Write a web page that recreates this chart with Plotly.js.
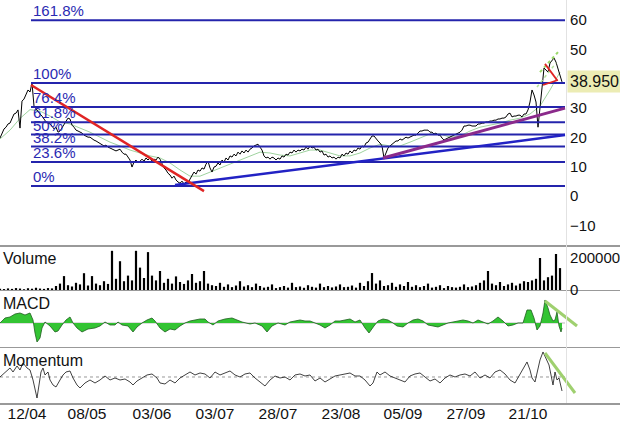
<!DOCTYPE html>
<html>
<head>
<meta charset="utf-8">
<script src="https://cdn.plot.ly/plotly-3.0.1.min.js"></script>
<style>html,body{margin:0;padding:0;background:#fff;}#chart{width:620px;height:423px;}</style>
</head>
<body>
<div id="chart"></div>
<script>
// ---------- DATA ----------
// x positions are trading-day index (0 = first bar)
const tickPos = [13.5, 43.5, 76, 107.5, 139, 170.5, 201.5, 233, 264];
const tickLabels = ['12/04', '08/05', '03/06', '03/07', '28/07', '23/08', '05/09', '27/09', '21/10'];

// daily close, one value per trading day
const priceClose = [
19.8,21.2,22.9,23.5,24.6,24.9,26.3,28.0,28.3,29.4,
23.2,32.4,33.1,34.8,36.2,35.5,38.6,30.7,29.7,28.7,
28.0,27.3,26.3,25.3,24.9,24.6,23.9,22.9,23.5,21.8,
22.2,23.2,24.6,25.6,26.6,26.3,24.2,23.5,22.5,22.2,
21.8,21.5,20.8,20.5,20.1,20.1,19.5,19.1,18.8,18.4,
18.1,17.7,17.1,17.4,16.7,16.4,16.0,15.7,15.4,15.7,
16.0,15.0,14.3,14.3,13.3,12.3,9.9,11.6,12.3,11.3,
11.9,12.6,11.9,13.0,12.3,13.0,11.9,12.6,12.3,13.3,
12.6,11.3,9.6,8.9,7.8,7.2,6.1,6.8,5.5,4.8,
4.4,5.1,4.1,4.8,4.4,5.8,7.2,8.2,7.5,8.9,
8.5,9.6,9.2,10.9,11.9,9.6,8.2,9.9,10.2,11.3,
10.6,12.3,11.6,13.0,12.3,13.7,13.3,14.3,13.7,15.0,
14.3,15.4,14.7,15.7,15.0,16.0,16.4,17.1,17.4,17.7,
16.7,15.7,13.7,13.0,13.3,12.6,13.3,13.0,12.3,13.0,
12.6,13.7,13.3,14.3,14.0,15.0,14.7,15.7,15.0,15.7,
15.4,16.0,15.7,16.7,16.0,17.1,16.4,16.7,15.7,16.0,
15.0,15.4,14.0,14.3,13.3,13.7,13.0,13.3,12.6,13.3,
13.0,14.3,13.7,14.7,14.3,15.4,14.7,15.7,15.4,16.4,
16.0,17.1,16.7,18.1,18.4,19.5,20.5,20.5,19.5,18.8,
18.1,17.1,13.0,15.0,16.4,17.1,17.7,18.4,18.8,18.8,
19.5,19.1,19.5,20.1,19.8,20.1,20.5,20.8,20.8,21.5,
22.2,22.2,22.5,22.5,22.5,21.8,21.8,21.2,21.5,20.8,
20.8,19.8,19.1,19.5,19.8,20.1,20.5,20.8,21.2,21.5,
21.8,22.5,23.9,23.9,24.2,24.2,23.9,23.9,23.9,24.6,
24.6,24.9,24.9,25.3,25.3,25.6,25.6,25.9,25.9,26.3,
26.3,26.6,26.6,27.0,28.0,28.3,27.0,27.3,27.3,27.6,
27.6,27.0,28.0,28.0,29.4,32.1,36.2,34.5,32.1,23.5,
29.4,36.9,43.7,43.0,42.3,45.4,46.4,47.1,45.7,43.7,
41.0,38.95
];

// moving average (light green)
const maX = [0,5,10,15,20,25,30,35,40,45,50,55,60,65,70,75,80,85,90,95,100,105,110,115,120,125,130,135,140,145,150,155,160,165,170,175,180,185,190,195,200,205,210,215,220,225,230,235,240,245,250,255,260,265,270,275,280];
const maY = [
19.5,22.5,26.5,29.5,29.0,27.3,25.3,24.6,23.2,21.8,
20.1,18.4,17.1,15.7,14.7,13.7,13.0,11.3,8.9,6.8,
6.8,8.2,9.6,10.9,12.3,13.7,15.0,14.7,14.0,13.7,
14.7,15.7,15.7,14.7,13.7,13.7,14.7,16.4,17.7,17.1,
17.1,18.4,19.8,21.2,21.2,20.1,20.5,22.2,23.5,24.2,
24.9,25.9,26.6,28.0,30.7,36.2,42.3
];

// volume, one bar every second trading day
const volume = [
8000,6000,10000,7000,12000,9000,5000,11000,8000,14000,9000,7000,12000,10000,
25000,40000,87000,30000,22000,45000,35000,105000,28000,87000,40000,30000,55000,38000,
245000,70000,180000,55000,90000,60000,245000,140000,75000,237000,90000,
60000,119000,45000,70000,40000,85000,50000,38000,60000,100000,45000,55000,119000,40000,
30000,25000,45000,20000,35000,18000,28000,55000,22000,30000,18000,40000,25000,
15000,20000,35000,12000,18000,25000,15000,45000,18000,22000,14000,30000,
20000,15000,40000,18000,25000,16000,22000,35000,18000,20000,28000,15000,45000,25000,55000,
106000,40000,60000,25000,30000,45000,20000,35000,25000,50000,20000,30000,18000,
25000,40000,15000,20000,30000,12000,25000,18000,15000,20000,35000,18000,22000,30000,
45000,60000,119000,40000,30000,50000,25000,35000,45000,28000,40000,55000,
50000,60000,70000,200000,60000,80000,90000,225000,137000
];

const macdX = [
0,2.5,5,7.5,10,12.5,15,16.5,17.5,18.5,
20,21,22.5,25,27.5,29,31,33,35,36.5,
38.5,41,44,47.5,50,52.5,55,57.5,59,61,
64,66.5,68.5,71,73.5,76,77.5,80,82.5,85,
87.5,90,92.5,95,97.5,100,102.5,104,106.5,109,
112.5,116,118.5,121,125,127.5,131,133.5,136,139,
142.5,145,150,152.5,155,157.5,160,162.5,165,167.5,
170,172.5,175,177.5,180,182.5,184.5,187,189,191.5,
194,196.5,198.5,201.5,204,206.5,209,211.5,214,216.5,
219,221.5,224,226.5,229,231.5,234,236.5,239,241.5,
244,246.5,249,251.5,254,256.5,259,261.5,263.5,265.5,
267,268.5,270,271.5,272.5,274,275,276.5,277.5,278.5,
279.5,280.5,281];
const macdY = [
0,0.5,0.6,0.9,1.0,0.8,1.0,0.3,-1.0,-1.9,
-1.5,-0.5,0.1,-0.3,-0.9,-0.8,-0.2,0.3,0.6,0,
-0.5,-0.9,-0.6,-0.5,-0.3,0.1,-0.2,-0.2,0.1,-0.2,
-0.3,-0.9,-0.4,0,0.3,0.5,0.2,-0.5,-0.9,-0.6,
-0.7,-0.3,0,0.2,0.3,0.4,0.4,0.1,-0.2,0.2,
0.4,0.5,0.3,0.1,-0.1,0,-0.3,-0.9,-0.3,0,
-0.2,0.1,0.3,0.2,0.2,0,-0.2,-0.5,-0.2,0.2,
0.2,0.3,0.4,0.1,0.3,-0.5,-1.0,-0.3,0.2,0.4,
0.3,0,-0.3,-0.4,0,0.3,0.4,0.2,-0.2,-0.3,
-0.4,-0.2,0,0.1,0.2,0.3,0.2,0,0.3,0.1,
-0.1,0.2,0.6,0.2,-0.3,-0.2,0,0,1.3,1.3,
0.5,-0.7,-0.3,1.0,2.3,1.5,0.8,0.2,0.3,1.1,
-0.3,-0.9,-0.5];

const momX = [
0,2.5,5,6.5,8.5,10,11.5,13.5,15,16.5,
17.5,18.5,19.5,20.5,21.5,22.5,24,25,26.5,28,
30,31.5,33,35,36.5,38.5,40,42.5,45,47.5,
50,52.5,55,57.5,60,62.5,65,66.5,68.5,71,
73.5,76,78.5,80,82.5,85,87.5,90,92.5,95,
97.5,100,102.5,105,107.5,110,112.5,115,117.5,120,
122.5,125,127.5,130,132.5,135,137.5,140,142.5,145,
147.5,150,152.5,155,157.5,160,162.5,165,167.5,170,
172.5,175,177.5,180,182.5,185,186.5,188.5,190,192.5,
195,197.5,200,202.5,205,207.5,210,212.5,215,217.5,
220,222.5,225,227.5,230,232.5,235,237.5,240,242.5,
245,247.5,250,252.5,255,257.5,260,261.5,263.5,265,
266,267.5,269,270,271.5,273,274.5,275.5,276.5,277.5,
278.5,279.5,280.5,281];
const momY = [
100,101.25,102.25,101.25,102.75,101.75,103.5,102.25,101.75,99.25,
96.75,94.75,98,101.25,102.25,100.5,101.25,99.25,98,97.5,
99.25,100.5,101.25,101.5,99.75,98,97.25,98.5,99.25,98.5,
99.25,100.25,99.25,99.75,99.25,99.5,98.75,98,99,99.75,
100.5,100.75,99.75,98.5,98.25,99.25,98.5,99.75,100.5,101.25,
100.5,101,100.75,99.75,101.25,100.5,101,101.5,100.5,100,
100.75,101,99.75,98.75,97.75,99.25,100.25,99.75,100,99.25,
100.5,100.75,100.25,100.5,99,99.75,98.75,99.5,100.25,100.5,
100.75,101,100.25,100.25,99.25,97.75,98.5,101.25,100.5,101.25,
100.25,99.75,99.25,98.75,100.25,100.75,101,100,99,99.5,
98.5,99.75,100.5,100,100.5,100.75,100.25,101.25,99.75,100.5,
99.75,101.25,101.75,100.75,99.25,98.5,100.75,102.25,103.75,101.75,
99.75,98.75,102.25,104.25,106.25,104.75,103,100.5,98,101.25,
99.25,99.75,98,96.5];
const momRef = 100;

// Fibonacci retracement
const fibLabels = ['0%', '23.6%', '38.2%', '50%', '61.8%', '76.4%', '100%', '161.8%'];
const fibValues = [3.4, 11.6, 16.9, 21.0, 25.2, 30.4, 38.6, 60.0];
const fibStart = 15.5, fibEnd = 282.5;

// drawn trend lines [x0,x1], [y0,y1]
const redTrendX = [15.5, 102], redTrendY = [37.9, 1.7];
const blueTrendX = [87.5, 282.5], blueTrendY = [3.75, 20.8];
const purpleTrendX = [191.5, 282.5], purpleTrendY = [13.0, 30.0];
const greenChan1X = [270, 279], greenChan1Y = [42.3, 49.1];
const greenChan2X = [268.5, 278], greenChan2Y = [37.2, 45.4];
const redTri1X = [272.5, 278.5], redTri1Y = [45.1, 39.6];
const redTri2X = [271.5, 279], redTri2Y = [37.9, 39.6];
const macdTrendX = [272.5, 288.5], macdTrendY = [2.2, -0.3];
const momTrendX = [272.5, 287.5], momTrendY = [106, 96];

const lastPrice = 38.95, lastPriceText = '38.950';
const mainTicks = [-10, 0, 10, 20, 30, 50, 60];
const volTicks = [0, 200000];

// ---------- STYLE ----------
const FONT = 'Liberation Sans, Arial, Helvetica, sans-serif';
const FIB = '#2424ac';
const AX = 0.913; // right axis position (paper)
const xRange = [0, 310];

const priceX = priceClose.map((_, i) => i);
const volX = volume.map((_, i) => i * 2);

function seg(x, y, color, width, xa, ya, dash) {
  return {x: x, y: y, type: 'scatter', mode: 'lines', xaxis: xa, yaxis: ya,
    line: {color: color, width: width, dash: dash || 'solid'}, hoverinfo: 'skip'};
}

const traces = [];
traces.push(seg(maX, maY, '#9fd39f', 1, 'x', 'y'));
traces.push(seg(priceX, priceClose, '#000', 1, 'x', 'y'));
fibValues.forEach(v => traces.push(seg([fibStart, fibEnd], [v, v], FIB, 2, 'x', 'y')));
traces.push(seg(blueTrendX, blueTrendY, '#2222c4', 2.5, 'x', 'y'));
traces.push(seg(purpleTrendX, purpleTrendY, '#8b2a8b', 3, 'x', 'y'));
traces.push(seg(redTrendX, redTrendY, '#e02424', 2.5, 'x', 'y'));
traces.push(seg(greenChan1X, greenChan1Y, '#9ad96a', 2, 'x', 'y', 'dot'));
traces.push(seg(greenChan2X, greenChan2Y, '#b5e39a', 1.5, 'x', 'y', 'dot'));
traces.push(seg(redTri1X, redTri1Y, '#e02424', 1.8, 'x', 'y'));
traces.push(seg(redTri2X, redTri2Y, '#e02424', 1.8, 'x', 'y'));

traces.push({x: volX, y: volume, type: 'bar', xaxis: 'x2', yaxis: 'y2', width: 1.1,
  marker: {color: '#000', line: {width: 0}}, hoverinfo: 'skip'});

traces.push({x: macdX, y: macdY, type: 'scatter', mode: 'lines', xaxis: 'x3', yaxis: 'y3',
  fill: 'tozeroy', fillcolor: '#33c433', line: {color: '#1e5e1e', width: 0.8}, hoverinfo: 'skip'});
traces.push(seg(macdTrendX, macdTrendY, '#9fd06f', 3, 'x3', 'y3'));

traces.push(seg(momX, momY, '#111', 0.8, 'x4', 'y4'));
traces.push(seg(momTrendX, momTrendY, '#9fd06f', 3, 'x4', 'y4'));

const annotations = fibLabels.map((t, i) => ({
  x: fibStart, y: fibValues[i], xref: 'x', yref: 'y', text: t, showarrow: false,
  xanchor: 'left', yanchor: 'bottom', xshift: 0, yshift: -1,
  font: {family: FONT, size: 15, color: '#2a2ab2'}
}));
annotations.push({x: AX, xref: 'paper', y: lastPrice, yref: 'y', text: lastPriceText,
  showarrow: false, xanchor: 'left', yanchor: 'middle', xshift: 1,
  bgcolor: '#ececb4', borderpad: 2, font: {family: FONT, size: 16, color: '#111'}});
[['Volume', 'y2'], ['MACD', 'y3'], ['Momentum', 'y4']].forEach(p => {
  annotations.push({x: 0, xref: 'paper', y: 1, yref: p[1] + ' domain', text: p[0],
    showarrow: false, xanchor: 'left', yanchor: 'top', xshift: 1, yshift: -3,
    font: {family: FONT, size: 16, color: '#111'}});
});

function xax(anchor, showLabels) {
  return {range: xRange, anchor: anchor, showgrid: false, zeroline: false,
    showline: true, linecolor: '#999', linewidth: 1.5, ticks: '',
    showticklabels: showLabels, tickvals: tickPos, ticktext: tickLabels, ticklabelstandoff: -4,
    tickfont: {family: FONT, size: 15.5, color: '#111'}, fixedrange: true};
}
function yax(domain, range, extra) {
  return Object.assign({domain: domain, range: range, side: 'right', anchor: 'free', position: AX,
    showgrid: false, zeroline: false, showline: true, linecolor: '#e2e2e2', linewidth: 1,
    ticks: '', showticklabels: false, tickfont: {family: FONT, size: 15, color: '#111'}}, extra || {});
}

const layout = {
  width: 620, height: 423, margin: {l: 0, r: 0, t: 0, b: 20},
  paper_bgcolor: '#fff', plot_bgcolor: '#fff', showlegend: false,
  xaxis: xax('y', false),
  xaxis2: Object.assign(xax('y2', false), {matches: 'x'}),
  xaxis3: Object.assign(xax('y3', false), {matches: 'x'}),
  xaxis4: Object.assign(xax('y4', true), {matches: 'x'}),
  yaxis: yax([0.392, 1], [-16.7, 66.9], {showticklabels: true, tickvals: mainTicks}),
  yaxis2: yax([0.2804, 0.392], [0, 281250], {showticklabels: true, tickvals: volTicks, tickformat: 'd'}),
  yaxis3: yax([0.139, 0.2804], [-2.4, 3.3]),
  yaxis4: yax([0, 0.139], [93.5, 107.5]),
  shapes: [
    {type: 'line', xref: 'x4', yref: 'y4', x0: 0, x1: fibEnd, y0: momRef, y1: momRef,
     line: {color: '#999', width: 1, dash: 'dot'}, layer: 'below'},
    {type: 'line', xref: 'x3', yref: 'y3', x0: 0, x1: fibEnd, y0: 0, y1: 0,
     line: {color: '#aaa', width: 0.8}, layer: 'below'}
  ],
  annotations: annotations
};

Plotly.newPlot('chart', traces, layout, {staticPlot: true, displayModeBar: false});
</script>
</body>
</html>
